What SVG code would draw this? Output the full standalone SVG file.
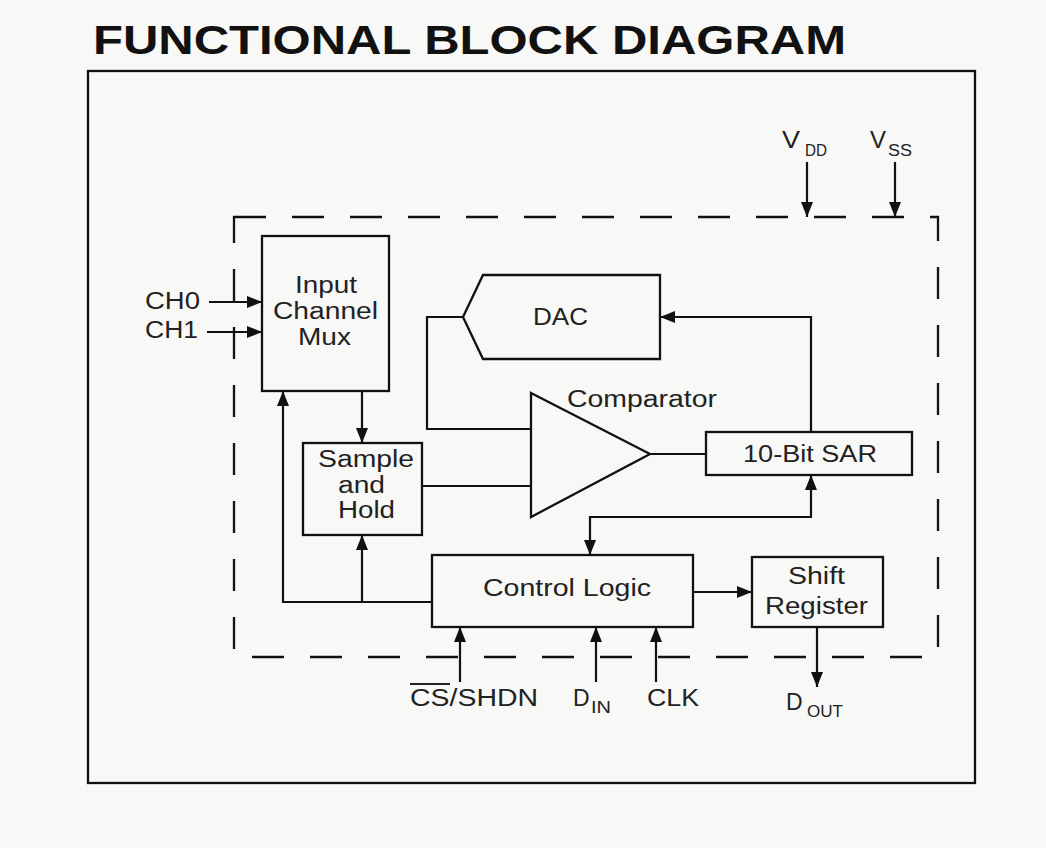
<svg xmlns="http://www.w3.org/2000/svg" width="1046" height="848" viewBox="0 0 1046 848">
<defs>
<marker id="ah" viewBox="0 0 15 12" refX="15" refY="6" markerWidth="15" markerHeight="12" markerUnits="userSpaceOnUse" orient="auto-start-reverse"><path d="M0,0 L15,6 L0,12 z" fill="#111"/></marker>
<style>
.ln{fill:none;stroke:#111;stroke-width:2.2}
.box{fill:none;stroke:#111;stroke-width:2.3}
.t{font-family:"Liberation Sans",Arial,Helvetica,sans-serif;font-size:23px;fill:#222}
.s{font-family:"Liberation Sans",Arial,Helvetica,sans-serif;font-size:16px;fill:#222}
.ar{marker-end:url(#ah)}
</style>
</defs>
<rect width="1046" height="848" fill="#f8f8f6"/>
<text x="93" y="54" font-family="Liberation Sans, Arial, sans-serif" font-weight="bold" font-size="41" fill="#111" textLength="753" lengthAdjust="spacingAndGlyphs">FUNCTIONAL BLOCK DIAGRAM</text>
<rect x="88" y="71" width="887" height="712" class="box"/>
<path d="M234,217 H938 V657 H234 Z" fill="none" stroke="#111" stroke-width="2.3" stroke-dasharray="32 26"/>

<g id="mux">
<rect x="262" y="236" width="127" height="155" class="box"/>
<text class="t" x="295" y="293" textLength="62" lengthAdjust="spacingAndGlyphs">Input</text>
<text class="t" x="273" y="319" textLength="105" lengthAdjust="spacingAndGlyphs">Channel</text>
<text class="t" x="298" y="345" textLength="53" lengthAdjust="spacingAndGlyphs">Mux</text>
</g>
<g id="dac">
<polygon points="463,317 483,275 660,275 660,359 483,359" class="box"/>
<text class="t" x="533" y="325" textLength="55" lengthAdjust="spacingAndGlyphs">DAC</text>
</g>
<g id="comparator">
<polygon points="531,393 650,454 531,517" class="box"/>
<text class="t" x="567" y="407" textLength="150" lengthAdjust="spacingAndGlyphs">Comparator</text>
</g>
<g id="sar">
<rect x="706" y="432" width="206" height="43" class="box"/>
<text class="t" x="743" y="462" textLength="134" lengthAdjust="spacingAndGlyphs">10-Bit SAR</text>
</g>
<g id="samplehold">
<rect x="303" y="443" width="119" height="92" class="box"/>
<text class="t" x="318" y="467" textLength="96" lengthAdjust="spacingAndGlyphs">Sample</text>
<text class="t" x="338" y="493" textLength="47" lengthAdjust="spacingAndGlyphs">and</text>
<text class="t" x="338" y="518" textLength="57" lengthAdjust="spacingAndGlyphs">Hold</text>
</g>
<g id="control">
<rect x="432" y="555" width="261" height="72" class="box"/>
<text class="t" x="483" y="596" font-size="24" textLength="168" lengthAdjust="spacingAndGlyphs">Control Logic</text>
</g>
<g id="shiftreg">
<rect x="752" y="557" width="131" height="70" class="box"/>
<text class="t" x="788" y="584" textLength="57" lengthAdjust="spacingAndGlyphs">Shift</text>
<text class="t" x="765" y="614" textLength="103" lengthAdjust="spacingAndGlyphs">Register</text>
</g>
<g id="labels">
<text class="t" x="145" y="309" textLength="55" lengthAdjust="spacingAndGlyphs">CH0</text>
<text class="t" x="145" y="338" textLength="53" lengthAdjust="spacingAndGlyphs">CH1</text>
<text class="t" x="782" y="148" textLength="18" lengthAdjust="spacingAndGlyphs">V</text><text class="s" x="805" y="156" textLength="22" lengthAdjust="spacingAndGlyphs">DD</text>
<text class="t" x="870" y="148" textLength="16" lengthAdjust="spacingAndGlyphs">V</text><text class="s" x="888" y="156" textLength="24" lengthAdjust="spacingAndGlyphs">SS</text>
<text class="t" x="410" y="706" textLength="128" lengthAdjust="spacingAndGlyphs">CS/SHDN</text>
<line x1="410" y1="684" x2="450" y2="684" stroke="#222" stroke-width="2"/>
<text class="t" x="573" y="706">D</text><text class="s" x="591" y="713" textLength="20" lengthAdjust="spacingAndGlyphs">IN</text>
<text class="t" x="647" y="706" textLength="52" lengthAdjust="spacingAndGlyphs">CLK</text>
<text class="t" x="786" y="710">D</text><text class="s" x="807" y="717" textLength="36" lengthAdjust="spacingAndGlyphs">OUT</text>
</g>
<g id="connectors">
<path class="ln ar" d="M209,302 H262"/>
<path class="ln ar" d="M207,332 H262"/>
<path class="ln ar" d="M362,391 V443"/>
<path class="ln" d="M422,486 H531"/>
<path class="ln" d="M463,317 H427 V429 H531"/>
<path class="ln" d="M650,454 H706"/>
<path class="ln ar" d="M811,432 V317 H660"/>
<path class="ln ar" d="M590,555 V517 H811 V475" marker-start="url(#ah)"/>
<path class="ln ar" d="M432,602 H283 V391"/>
<path class="ln ar" d="M362,602 V535"/>
<path class="ln ar" d="M693,592 H752"/>
<path class="ln ar" d="M817,627 V687"/>
<path class="ln ar" d="M460,682 V627"/>
<path class="ln ar" d="M596,682 V627"/>
<path class="ln ar" d="M656,682 V627"/>
<path class="ln ar" d="M807,162 V217"/>
<path class="ln ar" d="M895,162 V217"/>
</g>
</svg>
